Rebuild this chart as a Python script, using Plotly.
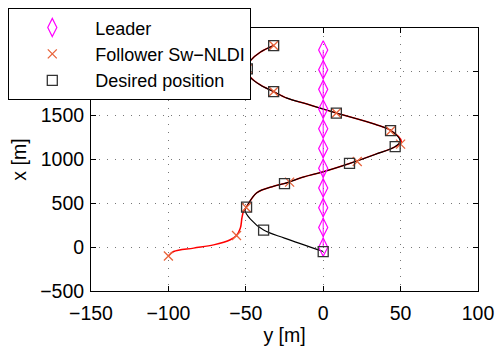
import plotly.graph_objects as go

# Leader positions (y [m], x [m])
leader_y = [0]*11
leader_x = [0, 225, 450, 675, 900, 1125, 1350, 1575, 1800, 2025, 2250]

# Desired positions (sampled)
des_y = [0, -38.5, -49.5, -25, 17, 46.5, 43.5, 8.5, -32, -49, -32]
des_x = [-50, 195, 457, 724, 955, 1147, 1330, 1530, 1775, 2033, 2300]

# Follower positions (sampled)
fol_y = [-100, -56, -49.7, -21.7, 22, 50, 43.5, 8.5, -32, -49, -32]
fol_x = [-100, 133, 452, 742, 978, 1175, 1326, 1530, 1775, 2033, 2300]

# Desired trajectory
dtraj_y = [0, -25, -38.5, -47, -50.5, -49.5, -43, -32, -25, -12.7, -1, 17, 33.5, 46.5,
           49.7, 43.4, 33.5, 8.5, -2, -11, -23.4, -32.5, -40.6, -47, -50, -47, -40.6, -32]
dtraj_x = [-50, 103, 195, 320, 420, 460, 619, 695, 726, 800, 855, 955, 1058, 1147,
           1211, 1334, 1402, 1530, 1586, 1635, 1700, 1778, 1850, 1938, 2033, 2128, 2225, 2300]

# Follower trajectory
ftraj_y = [-100, -96.6, -83.7, -70.8, -60, -56, -53.5, -52.5, -51.5, -49.7, -43, -32, -25,
           -12.7, -1, 17, 33.5, 47, 50.5, 43.4, 33.5, 8.5, -2, -11, -23.4, -32.5, -40.6,
           -47, -50, -47, -40.6, -32]
ftraj_x = [-100, -50, -11, 26, 84, 133, 218, 333, 408, 455, 619, 695, 726,
           800, 855, 955, 1058, 1150, 1205, 1334, 1402, 1530, 1586, 1635, 1700, 1778, 1850,
           1938, 2033, 2128, 2225, 2300]

FONT = "Liberation Sans, Arial, Helvetica, sans-serif"
FS = 19.5
LFS = 18

fig = go.Figure()

fig.add_trace(go.Scatter(x=ftraj_y, y=ftraj_x, mode="lines", showlegend=False,
                         line=dict(color="#ff0000", width=1.5, shape="spline", smoothing=1.0),
                         hoverinfo="skip"))
fig.add_trace(go.Scatter(x=dtraj_y, y=dtraj_x, mode="lines", showlegend=False,
                         line=dict(color="#000000", width=1.1, shape="spline", smoothing=1.0),
                         hoverinfo="skip"))
fig.add_trace(go.Scatter(x=leader_y, y=leader_x, mode="lines", showlegend=False,
                         line=dict(color="#ff00ff", width=1), hoverinfo="skip"))

fig.add_trace(go.Scatter(x=leader_y, y=leader_x, mode="lines+markers", name="Leader",
                         legendgroup="a",
                         line=dict(color="rgba(0,0,0,0)", width=1),
                         marker=dict(symbol="diamond-tall-open", size=13, color="#ff00ff",
                                     line=dict(width=1.2, color="#ff00ff"))))
fig.add_trace(go.Scatter(x=fol_y, y=fol_x, mode="markers", name="Follower Sw\u2212NLDI",
                         legendgroup="b",
                         marker=dict(symbol="x-thin-open", size=9, color="#e8643c",
                                     line=dict(width=1.3, color="#e8643c"))))
fig.add_trace(go.Scatter(x=des_y, y=des_x, mode="markers", name="Desired position",
                         legendgroup="c",
                         marker=dict(symbol="square-open", size=10, color="#333333",
                                     line=dict(width=1.3, color="#333333"))))

axis_common = dict(showline=True, linecolor="black", linewidth=1, mirror="ticks",
                   ticks="inside", ticklen=5, tickcolor="black",
                   showgrid=True, gridcolor="#777777", griddash="1px,7px", gridwidth=1,
                   zeroline=False, tickfont=dict(size=FS, color="black", family=FONT))

fig.update_xaxes(range=[-150, 100], dtick=50, tick0=0, ticklabelstandoff=5,
                 title=dict(text="y [m]", font=dict(size=FS, color="black", family=FONT), standoff=4),
                 **axis_common)
fig.update_yaxes(range=[-500, 2500], dtick=500, tick0=0, ticklabelstandoff=2,
                 title=dict(text="x [m]", font=dict(size=FS, color="black", family=FONT), standoff=8),
                 **axis_common)

fig.update_layout(
    width=496, height=352,
    margin=dict(l=91, r=18, t=28, b=61, autoexpand=False),
    plot_bgcolor="white", paper_bgcolor="white",
    font=dict(family=FONT, size=FS, color="black"),
    legend=dict(x=-0.2137, y=1.075, xanchor="left", yanchor="top",
                bgcolor="white", bordercolor="black", borderwidth=1,
                font=dict(size=LFS, color="black", family=FONT),
                traceorder="grouped", tracegroupgap=0, itemwidth=76),
)

fig.write_html("out.html")
